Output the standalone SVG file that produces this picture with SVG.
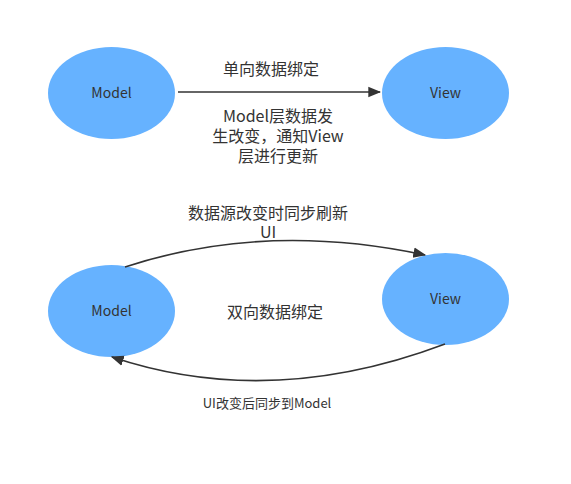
<svg xmlns="http://www.w3.org/2000/svg" width="571" height="484" viewBox="0 0 571 484">
<defs>
<style>
.node{fill:#66b2ff;stroke:none}
.t{font-family:"Noto Sans CJK SC","Liberation Sans",sans-serif;fill:#333;text-anchor:middle}
.lbl{font-size:14px}
.e{fill:none;stroke:#333;stroke-width:1.6}
</style>
<marker id="ah" viewBox="0 0 10 10" refX="9" refY="5" markerWidth="13" markerHeight="13" markerUnits="userSpaceOnUse" orient="auto">
<path d="M0,1 L10,5 L0,9 Z" fill="#333"/>
</marker>
</defs>
<rect width="571" height="484" fill="#fff"/>
<g id="model1"><ellipse class="node" cx="111.5" cy="93" rx="63.5" ry="46"/><text class="t lbl" x="111.5" y="98">Model</text></g>
<g id="view1"><ellipse class="node" cx="445.5" cy="93" rx="63.5" ry="46"/><text class="t lbl" x="445.5" y="98">View</text></g>
<g id="model2"><ellipse class="node" cx="111.5" cy="311" rx="63.5" ry="46"/><text class="t lbl" x="111.5" y="316">Model</text></g>
<g id="view2"><ellipse class="node" cx="445.5" cy="299" rx="63.5" ry="46"/><text class="t lbl" x="445.5" y="304">View</text></g>
<g id="connectors">
<path class="e" d="M178,92 L380,92" marker-end="url(#ah)"/>
<path class="e" d="M125,267 Q265,221 425,255" marker-end="url(#ah)"/>
<path class="e" d="M445,344 Q270,410 112,357" marker-end="url(#ah)"/>
</g>
<g id="labels">
<text class="t" font-size="16" x="271" y="75">单向数据绑定</text>
<text class="t" font-size="16"><tspan x="278" y="122">Model层数据发</tspan><tspan x="278" y="142">生改变，通知View</tspan><tspan x="278" y="162">层进行更新</tspan></text>
<text class="t" font-size="16"><tspan x="268" y="219">数据源改变时同步刷新</tspan><tspan x="268" y="238">UI</tspan></text>
<text class="t" font-size="16" x="275" y="318">双向数据绑定</text>
<text class="t" font-size="13" x="267" y="408">UI改变后同步到Model</text>
</g>
</svg>
